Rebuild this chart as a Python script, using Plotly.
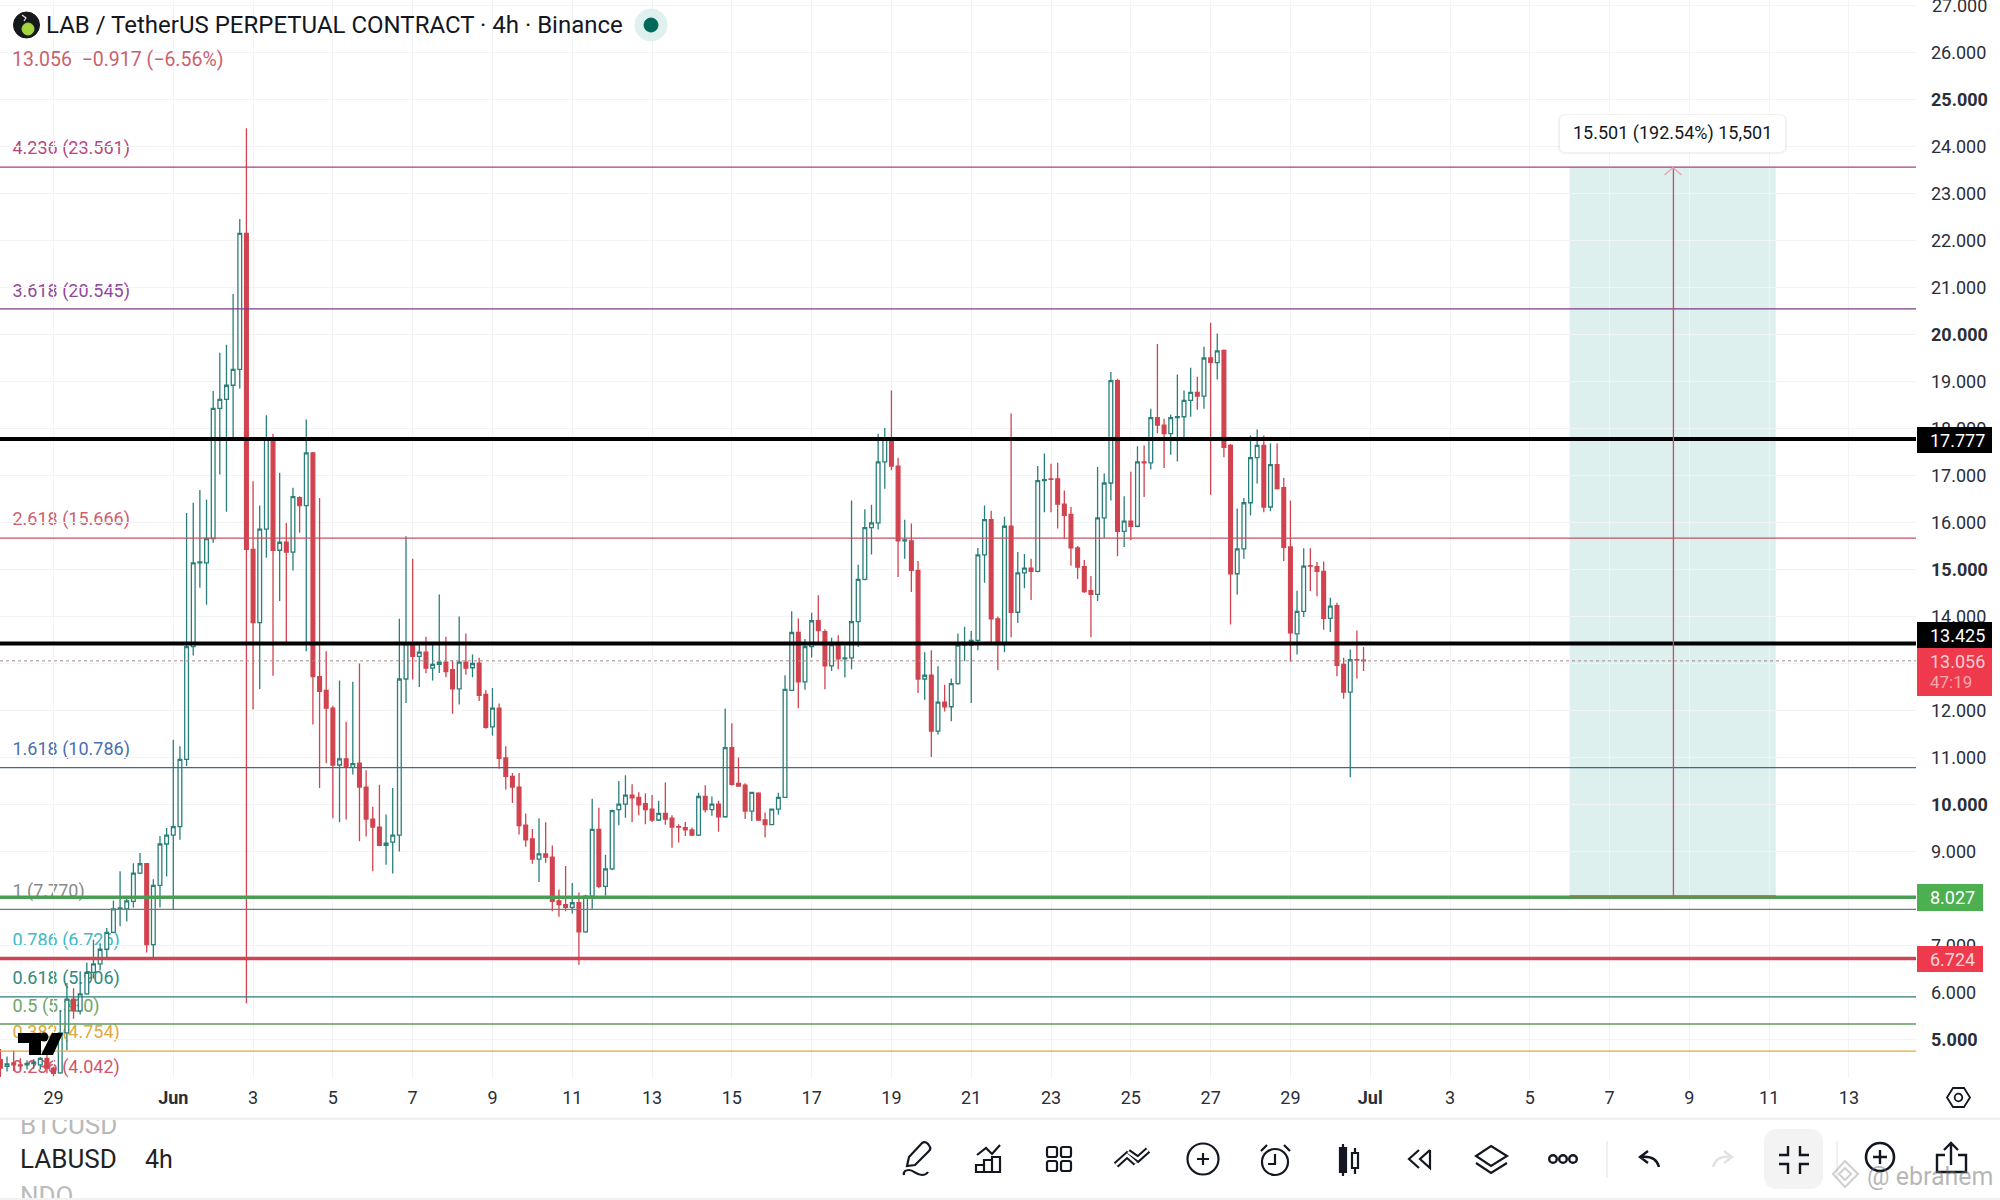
"""
LAB / USDT 4h chart with fib levels, rebuilt in Plotly.
"""
import re
import pandas as pd
import plotly.graph_objects as go

W, H = 2000, 1200
PLOT_R, PLOT_B = 1916, 1078

FONT = "Roboto"
TEAL = "#2b7f7a"
RED = "#d1434f"

# 4h candles
opens = [
    4.57, 4.43, 4.50, 4.46, 4.46, 4.49, 4.46, 4.60, 4.39, 4.29, 5.14, 5.86, 5.61, 5.97, 6.43, 6.61,
    6.92, 7.28, 7.78, 7.78, 7.94, 8.54, 8.74, 7.02, 8.28, 9.16, 9.35, 9.53, 10.96, 13.36, 15.14, 15.14,
    15.66, 18.43, 18.62, 18.92, 19.26, 22.15, 15.43, 13.87, 15.86, 17.78, 15.41, 15.58, 15.37, 16.53, 16.36, 17.48,
    12.72, 12.43, 12.05, 10.84, 10.97, 10.79, 10.88, 10.37, 9.69, 9.52, 9.13, 9.20, 9.35, 12.67, 13.42, 13.15,
    13.24, 12.90, 12.98, 13.03, 12.87, 12.46, 13.03, 12.91, 13.01, 12.34, 11.65, 12.05, 10.99, 10.60, 10.37, 9.56,
    9.27, 8.84, 8.95, 8.88, 7.95, 7.87, 7.81, 7.91, 7.29, 8.05, 9.47, 8.26, 8.63, 9.89, 10.01, 10.20,
    10.15, 10.02, 9.90, 9.67, 9.81, 9.71, 9.53, 9.51, 9.46, 9.35, 10.17, 9.89, 10.01, 9.74, 11.21, 10.45,
    10.41, 9.86, 10.24, 9.67, 9.57, 9.90, 10.15, 12.43, 13.66, 12.61, 13.36, 13.91, 13.68, 12.95, 13.41, 13.10,
    13.12, 13.89, 14.79, 15.89, 15.99, 17.29, 17.80, 17.20, 15.61, 15.61, 14.98, 12.67, 12.75, 11.56, 12.18, 12.08,
    12.57, 13.39, 13.39, 13.49, 15.31, 16.06, 13.95, 13.40, 15.92, 14.09, 14.93, 15.03, 14.96, 16.89, 16.93, 16.93,
    16.39, 16.17, 15.46, 15.06, 14.55, 14.47, 16.10, 16.84, 19.02, 15.81, 16.03, 15.92, 17.29, 17.27, 18.23, 18.07,
    17.89, 18.23, 18.25, 18.60, 18.77, 18.69, 19.50, 19.40, 19.66, 17.64, 14.91, 15.44, 16.42, 17.38, 17.64, 16.33,
    17.23, 16.74, 15.48, 13.63, 14.11, 15.08, 15.06, 14.96, 13.96, 14.23, 12.98, 12.39, 13.08, 13.07,
]
highs = [
    4.80, 4.64, 4.77, 4.60, 4.56, 4.58, 4.63, 4.68, 4.42, 5.63, 6.20, 6.09, 6.45, 6.64, 7.12, 7.05,
    7.37, 7.95, 8.58, 8.04, 8.75, 8.97, 8.75, 8.41, 9.33, 9.50, 11.38, 11.24, 16.20, 16.42, 16.69, 16.49,
    18.80, 19.61, 19.78, 20.86, 22.46, 24.39, 16.88, 16.36, 18.28, 17.89, 17.06, 15.99, 16.74, 16.56, 18.19, 17.50,
    16.52, 13.26, 12.10, 12.64, 11.76, 12.61, 13.00, 10.73, 9.95, 10.42, 9.79, 10.35, 13.95, 15.71, 15.23, 13.40,
    13.57, 13.40, 14.47, 13.57, 13.07, 14.00, 13.64, 13.19, 13.12, 12.43, 12.48, 12.15, 11.24, 10.67, 10.67, 9.81,
    9.48, 9.71, 9.62, 9.13, 8.19, 8.69, 8.33, 8.13, 8.08, 10.12, 9.93, 8.93, 9.89, 10.50, 10.62, 10.43,
    10.26, 10.24, 10.20, 10.08, 10.47, 9.77, 9.58, 9.63, 9.51, 10.25, 10.41, 10.17, 10.08, 12.04, 11.73, 11.00,
    10.45, 10.27, 10.26, 9.83, 9.91, 10.25, 12.75, 14.11, 13.96, 13.52, 14.08, 14.45, 13.73, 13.55, 13.60, 13.38,
    16.47, 15.10, 16.28, 16.38, 17.89, 18.01, 18.81, 17.38, 16.06, 15.98, 15.18, 13.24, 13.28, 12.94, 12.55, 12.68,
    13.64, 13.78, 13.69, 15.46, 16.36, 16.25, 14.00, 16.12, 18.32, 15.37, 15.33, 15.23, 17.20, 17.47, 17.25, 17.27,
    16.68, 16.33, 15.50, 15.20, 14.86, 17.18, 17.04, 19.20, 19.06, 16.56, 17.08, 17.62, 17.64, 18.42, 19.80, 18.21,
    18.30, 19.15, 18.81, 19.29, 19.10, 19.74, 20.25, 20.02, 19.68, 17.67, 16.30, 16.52, 17.85, 17.98, 17.85, 17.68,
    17.68, 16.95, 16.47, 14.55, 15.45, 15.45, 15.16, 15.17, 14.40, 14.29, 13.12, 13.30, 13.70, 13.35,
]
lows = [
    4.20, 4.32, 4.33, 4.35, 4.36, 4.38, 4.36, 4.28, 4.22, 4.27, 4.77, 5.44, 5.53, 5.95, 6.30, 6.47,
    6.71, 7.26, 7.41, 7.51, 7.81, 8.52, 6.85, 6.73, 7.81, 8.47, 7.77, 9.25, 10.82, 13.17, 14.61, 14.25,
    15.57, 17.02, 16.23, 17.77, 18.85, 5.77, 12.02, 12.46, 15.25, 12.74, 14.33, 13.44, 14.98, 15.78, 13.26, 11.70,
    10.35, 10.88, 9.71, 9.62, 9.68, 10.64, 9.22, 9.32, 8.58, 9.11, 8.72, 8.53, 9.00, 12.16, 12.66, 12.50,
    12.79, 12.64, 12.80, 12.71, 11.93, 12.13, 12.76, 12.71, 12.20, 11.61, 11.47, 10.76, 10.32, 10.03, 9.36, 9.10,
    8.74, 8.35, 8.76, 7.73, 7.61, 7.73, 7.68, 6.59, 7.27, 7.78, 8.22, 8.06, 8.60, 9.56, 9.72, 9.63,
    9.77, 9.58, 9.63, 9.65, 9.57, 9.08, 9.19, 9.33, 9.33, 9.33, 9.83, 9.76, 9.42, 9.72, 10.40, 10.38,
    9.69, 9.65, 9.65, 9.30, 9.56, 9.78, 10.14, 12.42, 12.05, 12.44, 13.13, 13.45, 12.45, 12.84, 12.88, 12.70,
    12.88, 13.35, 14.77, 15.32, 15.85, 16.72, 17.11, 14.84, 15.23, 14.52, 12.37, 12.23, 11.01, 11.49, 11.98, 11.77,
    12.55, 13.05, 12.16, 13.28, 14.72, 13.40, 12.86, 13.24, 13.56, 13.86, 14.60, 14.35, 14.94, 16.22, 16.22, 15.87,
    15.65, 15.08, 14.80, 14.50, 13.56, 14.33, 15.67, 16.47, 15.28, 15.48, 15.62, 15.90, 16.54, 17.13, 17.90, 17.16,
    17.44, 17.30, 17.80, 18.25, 18.40, 18.42, 16.59, 19.04, 17.39, 13.83, 14.47, 15.23, 16.15, 16.83, 16.22, 16.24,
    16.70, 15.18, 13.03, 13.19, 13.99, 14.54, 14.43, 13.72, 13.67, 12.73, 12.25, 10.58, 12.68, 12.84,
]
closes = [
    4.39, 4.48, 4.46, 4.44, 4.49, 4.52, 4.60, 4.39, 4.28, 5.14, 5.86, 5.61, 5.97, 6.43, 6.61, 6.92,
    7.28, 7.78, 7.80, 7.95, 8.54, 8.74, 7.02, 8.28, 9.16, 9.35, 9.53, 10.96, 13.36, 15.14, 15.16, 15.66,
    18.43, 18.62, 18.92, 19.26, 22.15, 15.43, 13.87, 15.86, 17.78, 15.41, 15.58, 15.37, 16.55, 16.36, 17.48, 12.72,
    12.41, 12.05, 10.84, 10.97, 10.79, 10.87, 10.37, 9.69, 9.52, 9.13, 9.18, 9.35, 12.67, 13.42, 13.15, 13.24,
    12.90, 12.98, 13.03, 12.83, 12.46, 13.03, 12.90, 13.00, 12.32, 11.64, 12.05, 10.98, 10.60, 10.37, 9.55, 9.25,
    8.84, 8.95, 8.88, 7.94, 7.87, 7.81, 7.91, 7.29, 8.05, 9.47, 8.26, 8.63, 9.87, 10.01, 10.20, 10.14,
    9.99, 9.89, 9.67, 9.81, 9.69, 9.52, 9.52, 9.46, 9.35, 10.17, 9.89, 10.01, 9.74, 11.21, 10.43, 10.39,
    9.86, 10.26, 9.67, 9.57, 9.90, 10.15, 12.45, 13.66, 12.61, 13.36, 13.91, 13.70, 12.95, 13.40, 13.10, 13.12,
    13.89, 14.79, 15.89, 15.99, 17.29, 17.80, 17.20, 15.61, 15.63, 14.98, 12.67, 12.75, 11.56, 12.18, 12.08, 12.57,
    13.39, 13.41, 13.49, 15.31, 16.06, 13.95, 13.40, 15.92, 14.09, 14.93, 15.03, 14.96, 16.89, 16.91, 16.92, 16.39,
    16.15, 15.46, 15.05, 14.53, 14.47, 16.10, 16.84, 19.02, 15.81, 16.03, 15.92, 17.29, 17.27, 18.23, 18.07, 17.89,
    18.23, 18.25, 18.60, 18.77, 18.69, 19.50, 19.41, 19.65, 17.60, 14.91, 15.44, 16.42, 17.38, 17.64, 16.33, 17.23,
    16.72, 15.47, 13.65, 14.11, 15.07, 15.07, 14.96, 13.96, 14.22, 12.96, 12.39, 13.08, 13.07, 13.056,
]

x_tick_dates = [
    "2025-05-29", "2025-06-01", "2025-06-03", "2025-06-05", "2025-06-07", "2025-06-09", "2025-06-11",
    "2025-06-13", "2025-06-15", "2025-06-17", "2025-06-19", "2025-06-21", "2025-06-23", "2025-06-25",
    "2025-06-27", "2025-06-29", "2025-07-01", "2025-07-03", "2025-07-05", "2025-07-07", "2025-07-09",
    "2025-07-11", "2025-07-13",
]
x_tick_labels = [
    "29", "<b>Jun</b>", "3", "5", "7", "9", "11", "13", "15", "17", "19", "21", "23", "25", "27", "29",
    "<b>Jul</b>", "3", "5", "7", "9", "11", "13",
]
y_ticks = list(range(5, 28))

fib_levels = [4.236, 3.618, 2.618, 1.618, 1, 0.786, 0.618, 0.5, 0.382, 0.236]
fib_prices = [23.561, 20.545, 15.666, 10.786, 7.770, 6.726, 5.906, 5.330, 4.754, 4.042]
fib_line_colors = ["#a5407c", "#7d3b8a", "#c65062", "#3f6a90", "#777777", "#3fb8c4", "#2d7c74", "#5e9a5e", "#e5a637", "#d0566a"]
fib_text_colors = ["#b5477f", "#8e4a98", "#d0606e", "#4a6fb0", "#8a8a8a", "#3fb8c4", "#2f8a80", "#6fa56a", "#e0a83c", "#d0566a"]
fib_label_y = [146.5, 289.5, 517.5, 747.5, 889.5, 938.5, 976.5, 1004.5, 1030.5, 1065.5]

support_prices = [17.777, 13.425, 8.027, 6.724]
support_colors = ["#000000", "#000000", "#4a9e54", "#cf4356"]
support_widths = [4, 4, 3.6, 3.6]
last_price = 13.056
target_top, target_bottom = 23.561, 8.027


def px(x):
    return x / W


def py(y):
    return 1 - y / H


def path_px(path):
    """Turn an absolute M/L/Q/C/Z path in page pixels into paper coordinates."""
    out = []
    is_x = True
    for tok in re.findall(r"[MLQCZ]|-?\d+\.?\d*", path):
        if tok in "MLQCZ":
            out.append(tok)
            is_x = True
        else:
            out.append(f"{px(float(tok)):.5f}" if is_x else f"{py(float(tok)):.5f}")
            is_x = not is_x
    return " ".join(out)


def round_rect(x0, y0, x1, y1, r):
    return (f"M {x0 + r} {y0} L {x1 - r} {y0} Q {x1} {y0} {x1} {y0 + r} L {x1} {y1 - r} Q {x1} {y1} {x1 - r} {y1} "
            f"L {x0 + r} {y1} Q {x0} {y1} {x0} {y1 - r} L {x0} {y0 + r} Q {x0} {y0} {x0 + r} {y0} Z")


shapes = []
annotations = []


def add_path(path, color="#131722", width=2.2, fill=None, layer="above"):
    shapes.append(dict(type="path", xref="paper", yref="paper", layer=layer, path=path_px(path),
                       line=dict(color=color, width=width), fillcolor=fill or "rgba(0,0,0,0)"))


def add_rect(x0, y0, x1, y1, fill, layer="above"):
    shapes.append(dict(type="rect", xref="paper", yref="paper", layer=layer,
                       x0=px(x0), x1=px(x1), y0=py(y0), y1=py(y1), line=dict(width=0), fillcolor=fill))


def add_circle(cx, cy, r, color="#131722", width=2.2, fill=None):
    shapes.append(dict(type="circle", xref="paper", yref="paper", layer="above",
                       x0=px(cx - r), x1=px(cx + r), y0=py(cy - r), y1=py(cy + r),
                       line=dict(color=color, width=width), fillcolor=fill or "rgba(0,0,0,0)"))


def add_text(x, y, text, size, color, anchor="left"):
    annotations.append(dict(xref="paper", yref="paper", x=px(x), y=py(y), text=text, showarrow=False,
                            xanchor=anchor, yanchor="middle", font=dict(family=FONT, size=size, color=color)))


def add_text_shape(x, y, text, size, color, layer="above", width=260):
    # text kept in the shape layers so candles or cover strips can sit on top of it
    shapes.append(dict(type="rect", xref="paper", yref="paper", layer=layer,
                       x0=px(x), x1=px(x + width), y0=py(y - 14), y1=py(y + 14),
                       line=dict(width=0), fillcolor="rgba(0,0,0,0)",
                       label=dict(text=text, textposition="middle left", padding=0,
                                  font=dict(family=FONT, size=size, color=color))))


# long position box
shapes.append(dict(type="rect", xref="x", yref="y", layer="below", x0="2025-07-06 00:00", x1="2025-07-11 04:00",
                   y0=target_bottom, y1=target_top, line=dict(width=0), fillcolor="rgba(0,137,123,0.13)"))

# fib lines and their labels
for level, price, line_c, text_c, label_y in zip(fib_levels, fib_prices, fib_line_colors, fib_text_colors, fib_label_y):
    shapes.append(dict(type="line", xref="paper", yref="y", x0=0, x1=px(PLOT_R), y0=price, y1=price,
                       line=dict(color=line_c, width=1.3)))
    add_text_shape(9.5, label_y, f"{level} ({price:.3f})", 18, text_c, layer="below")

# last price
shapes.append(dict(type="line", xref="paper", yref="y", x0=0, x1=px(PLOT_R), y0=last_price, y1=last_price,
                   line=dict(color="#a58a8a", width=1, dash="dot")))

# manual support / resistance lines
for price, color, lw in zip(support_prices, support_colors, support_widths):
    shapes.append(dict(type="line", xref="paper", yref="y", x0=0, x1=px(PLOT_R), y0=price, y1=price,
                       line=dict(color=color, width=lw)))

# target arrow
shapes.append(dict(type="line", xref="x", yref="y", x0="2025-07-08 14:24", x1="2025-07-08 14:24",
                   y0=target_bottom, y1=target_top, line=dict(color="#cf4a5a", width=1.3)))
shapes.append(dict(type="line", xref="x", yref="y", x0="2025-07-06 00:00", x1="2025-07-11 04:00",
                   y0=target_bottom + 0.03, y1=target_bottom + 0.03, line=dict(color="#a5703c", width=1.2)))
add_path("M 1664.5 175 L 1673 167.5 L 1681.5 175", color="#e8a3ab", width=1.3)

# measure tooltip
add_path(round_rect(1558, 114, 1787, 154, 7), color="rgba(0,0,0,0)", width=0, fill="rgba(0,0,0,0.05)")
add_path(round_rect(1560, 115, 1785, 152, 6), color="rgba(0,0,0,0)", width=0, fill="#ffffff")
add_text(1672.5, 133, "15.501 (192.54%) 15,501", 18, "#131722", anchor="center")

# header
add_circle(26.5, 25, 13, color="#16191c", width=1, fill="#16191c")
add_circle(28, 29, 6, color="#a5d63f", width=1, fill="#a5d63f")
add_path("M 22 15 L 26 18 L 24 21", color="#e8e8e8", width=1.2)
add_text(44, 25, "LAB / TetherUS PERPETUAL CONTRACT · 4h · Binance", 24, "#131722")
add_circle(651, 25, 16, color="#dff1ee", width=1, fill="#dff1ee")
add_circle(651, 25, 7, color="#00695c", width=1, fill="#00695c")
add_text(10, 59, "13.056  −0.917 (−6.56%)", 19.5, "#cc5f6e")

# top price label sits half off the page, plotly drops it from the axis
add_text(1930, 5.5, "27.000", 18, "#2a2e39")

# TradingView mark
add_path("M 18 1033 L 41 1033 L 41 1055 L 29 1055 L 29 1043 L 18 1043 Z", color="#000000", width=0, fill="#000000")
add_circle(44, 1037, 4.5, color="#000000", width=0, fill="#000000")
add_path("M 52 1033 L 63 1033 L 53 1055 L 41 1055 Z", color="#000000", width=0, fill="#000000")

# price badges
add_rect(1917, 427, 1992, 453, "#000000")
add_text(1957, 440, "17.777", 18, "#ffffff", anchor="center")
add_rect(1917, 622, 1992, 648, "#000000")
add_text(1957, 635, "13.425", 18, "#ffffff", anchor="center")
add_rect(1917, 648, 1992, 696, "#ee3a4c")
add_text(1957, 661, "13.056", 18, "#f8ccd0", anchor="center")
add_text(1928, 682, "47:19", 17, "#f8a9b0")
add_rect(1917, 884, 1983, 911, "#4caf50")
add_text(1928, 897.5, "8.027", 18, "#ffffff")
add_rect(1917, 946, 1983, 972, "#ee3a4c")
add_text(1928, 959, "6.724", 18, "#f8d5d8")

# settings hexagon on the time axis
add_path("M 1947 1097.5 L 1953 1088 L 1964 1088 L 1970 1097.5 L 1964 1107 L 1953 1107 Z", width=1.8)
add_circle(1958.5, 1097.5, 3.8, width=1.8)

# bottom bar: symbol wheel
add_text_shape(17, 1123, "BTCUSD", 26, "#b8b8b8")
add_text_shape(17, 1194, "NDO", 26, "#bbbbbb")
add_rect(0, 1110, 2000, 1119, "#ffffff")
add_rect(0, 1117.5, 2000, 1120, "#efefef")
add_rect(0, 1198, 2000, 1200, "#f2f2f2")
add_text(18, 1159, "LABUSD", 26, "#222222")
add_text(143, 1159, "4h", 25, "#222222")

# bottom bar: pencil
add_path("M 907 1166 L 909 1157 L 922 1143 Q 925 1141 928 1144 L 930 1147 Q 931 1149 929 1151 L 915 1165 Z")
add_path("M 904 1175 Q 903 1170 909 1170 C 914 1170 916 1175 922 1175 Q 926 1175 928 1172")
# indicators
add_path("M 977 1155 L 986 1148 L 992 1154 L 1000 1145")
add_path("M 976 1165 L 984 1165 L 984 1172 L 976 1172 Z M 984 1160 L 992 1160 L 992 1172 L 984 1172 Z "
         "M 992 1157 L 1000 1157 L 1000 1172 L 992 1172 Z")
# layouts
for gx in (1047, 1061):
    for gy in (1147, 1161):
        add_path(round_rect(gx, gy, gx + 10, gy + 10, 2))
# drawings: double chevron, dark stroke with a white core
drawing_icon = "M 1116 1165 L 1127 1155 L 1136 1163 M 1128 1152 L 1138 1159 L 1148 1150"
add_path(drawing_icon, width=6.5)
add_path(drawing_icon, color="#ffffff", width=2.5)
# add symbol
add_circle(1203, 1159, 15.5)
add_path("M 1197 1159 L 1209 1159 M 1203 1153 L 1203 1165")
# alert
add_circle(1275, 1162, 13)
add_path("M 1275 1154 L 1275 1164 L 1268 1164 M 1261 1151 L 1267 1145 M 1290 1151 L 1284 1145")
# chart type
add_path("M 1340 1148 L 1346 1148 L 1346 1172 L 1340 1172 Z M 1343 1144 L 1343 1176", fill="#131722")
add_path("M 1352 1153 L 1358 1153 L 1358 1168 L 1352 1168 Z M 1355 1148 L 1355 1153 M 1355 1168 L 1355 1174")
# replay
add_path("M 1419 1150 L 1409 1159 L 1419 1168 M 1430 1150 L 1420 1159 L 1430 1168 L 1430 1150")
# layers
add_path("M 1491 1146 L 1507 1156 L 1491 1166 L 1476 1156 Z M 1476 1163 L 1491 1173 L 1507 1163")
# more
for dx in (1553, 1563, 1573):
    add_circle(dx, 1159, 3.8, width=2.4)
add_rect(1606, 1141, 1608, 1178, "#f0f0f0")
# undo / redo
add_path("M 1648 1151 L 1640 1157 L 1648 1163 M 1640 1157 Q 1656 1155 1659 1167", width=2.4)
add_path("M 1724 1151 L 1732 1157 L 1724 1163 M 1732 1157 Q 1716 1155 1713 1167", color="#e2e2e2", width=2.4)
# collapse
add_path(round_rect(1764, 1129, 1823, 1189, 14), color="rgba(0,0,0,0)", width=0, fill="#f3f3f3")
add_path("M 1779 1155 L 1788 1155 L 1788 1146 M 1800 1146 L 1800 1155 L 1809 1155 "
         "M 1779 1164 L 1788 1164 L 1788 1174 M 1809 1164 L 1800 1164 L 1800 1174", width=2.4)
add_rect(1836, 1141, 1838, 1178, "#f0f0f0")
# zoom
add_circle(1880, 1157, 14, width=2.6)
add_path("M 1873 1157 L 1887 1157 M 1880 1150 L 1880 1164", width=2.4)
# share
add_path("M 1945 1155 L 1937 1155 L 1937 1172 L 1966 1172 L 1966 1155 L 1958 1155 "
         "M 1951 1165 L 1951 1143 M 1944 1150 L 1951 1143 L 1958 1150", width=2.4)
# watermark
add_path("M 1845 1161 L 1858 1174 L 1845 1187 L 1833 1174 Z M 1845 1168 L 1851 1174 L 1845 1180 L 1839 1174 Z",
         color="rgba(120,120,120,0.35)", width=2)
add_text(1865, 1176, "@ ebrahem", 25, "rgba(110,110,110,0.5)")

times = pd.date_range("2025-05-27 16:00", periods=len(opens), freq="4h")
assert len(opens) == len(highs) == len(lows) == len(closes)

fig = go.Figure(go.Candlestick(
    x=times,
    open=opens,
    high=highs,
    low=lows,
    close=closes,
    increasing=dict(line=dict(color=TEAL, width=1.3), fillcolor="#ffffff"),
    decreasing=dict(line=dict(color=RED, width=1.3), fillcolor=RED),
    hoverinfo="skip",
    showlegend=False,
))

y_labels = [f"<b>{v}.000</b>" if v % 5 == 0 else f"{v}.000" for v in y_ticks]
y_labels[-1] = ""

fig.update_layout(
    width=W,
    height=H,
    margin=dict(l=0, r=0, t=0, b=0),
    paper_bgcolor="#ffffff",
    plot_bgcolor="#ffffff",
    boxgap=0.3,
    boxgroupgap=0.2,
    font=dict(family=FONT, color="#2a2e39"),
    shapes=shapes,
    annotations=annotations,
    xaxis=dict(
        domain=[0, PLOT_R / W],
        range=["2025-05-27 15:46", "2025-07-14 16:19"],
        rangeslider=dict(visible=False),
        tickmode="array",
        tickvals=x_tick_dates,
        ticktext=x_tick_labels,
        tickangle=0,
        tickfont=dict(family=FONT, size=18, color="#2a2e39"),
        ticks="",
        ticklabelstandoff=7,
        showgrid=True,
        gridcolor="#f1f3f6",
        gridwidth=1,
        zeroline=False,
        showline=False,
    ),
    yaxis=dict(
        domain=[1 - PLOT_B / H, 1],
        range=[4.181, 27.117],
        side="right",
        tickmode="array",
        tickvals=y_ticks,
        ticktext=y_labels,
        tickfont=dict(family=FONT, size=18, color="#2a2e39"),
        ticks="",
        ticklabelstandoff=14,
        showgrid=True,
        gridcolor="#f1f3f6",
        gridwidth=1,
        zeroline=False,
        showline=False,
    ),
)

# the page's default body margin would shift everything by 8px
fig.write_html(
    "out.html",
    config={"displayModeBar": False},
    post_script="document.body.style.margin='0';document.documentElement.style.overflow='hidden';",
)
